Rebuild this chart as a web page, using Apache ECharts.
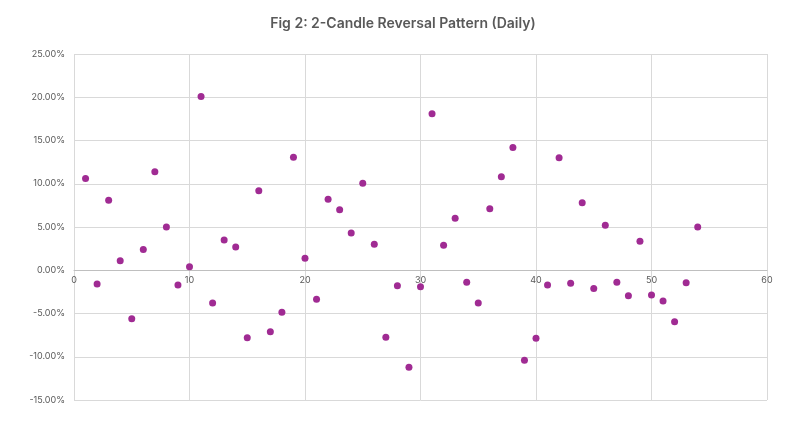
<!DOCTYPE html>
<html>
<head>
<meta charset="utf-8">
<script src="https://cdn.jsdelivr.net/npm/echarts@6/dist/echarts.min.js"></script>
<style>
html,body{margin:0;padding:0;background:#fff;}
#c{width:806px;height:433px;}
</style>
</head>
<body>
<div id="c"></div>
<script>
var titleText = 'Fig 2: 2-Candle Reversal Pattern (Daily)';
var xValues = [1,2,3,4,5,6,7,8,9,10,11,12,13,14,15,16,17,18,19,20,21,22,23,24,25,26,27,28,29,30,31,32,33,34,35,36,37,38,39,40,41,42,43,44,45,46,47,48,49,50,51,52,53,54];
var yValues = [10.6,-1.6,8.1,1.1,-5.6,2.4,11.4,5.0,-1.7,0.4,20.1,-3.8,3.5,2.7,-7.8,9.2,-7.1,-4.85,13.05,1.4,-3.35,8.2,7.0,4.3,10.05,3.0,-7.75,-1.8,-11.2,-1.9,18.1,2.9,6.0,-1.4,-3.8,7.1,10.8,14.2,-10.4,-7.85,-1.7,13.0,-1.5,7.8,-2.1,5.2,-1.4,-2.95,3.35,-2.85,-3.55,-5.95,-1.45,5.0];
var xTicks = {min:0, max:60, interval:10};
var yTicks = {min:-15, max:25, interval:5};

var gridTop = 54, gridBottom = 33, chartH = 433;
var plotH = chartH - gridTop - gridBottom;
// x axis sits on the y=0 line: shift it up by the distance from the bottom to zero
var zeroShift = plotH * (0 - yTicks.min) / (yTicks.max - yTicks.min);

var data = xValues.map(function(x,i){return [x, yValues[i]];});
var chart = echarts.init(document.getElementById('c'), null, {renderer:'canvas'});
chart.setOption({
  animation:false,
  backgroundColor:'#ffffff',
  title:{
    text:titleText, left:'center', top:12,
    textStyle:{fontFamily:'Inter', fontSize:14, fontWeight:600, color:'#595959'}
  },
  grid:{left:74, right:39, top:gridTop, bottom:gridBottom, containLabel:false},
  xAxis:{
    type:'value', min:xTicks.min, max:xTicks.max, interval:xTicks.interval,
    offset:-zeroShift,
    axisLine:{show:true, onZero:false, lineStyle:{color:'#bfbfbf', width:1}},
    axisTick:{show:false},
    axisLabel:{fontFamily:'Inter', fontSize:9, color:'#595959', margin:6},
    splitLine:{show:true, lineStyle:{color:'#d9d9d9', width:1}}
  },
  yAxis:{
    type:'value', min:yTicks.min, max:yTicks.max, interval:yTicks.interval,
    axisLine:{show:false},
    axisTick:{show:false},
    axisLabel:{fontFamily:'Inter', fontSize:9, color:'#595959', margin:9,
      formatter:function(v){return v.toFixed(2)+'%';}},
    splitLine:{show:true, lineStyle:{color:'#d9d9d9', width:1}}
  },
  series:[{
    type:'scatter', data:data, symbol:'circle', symbolSize:7,
    itemStyle:{color:'#a02b93', opacity:1}
  }]
});
</script>
</body>
</html>
